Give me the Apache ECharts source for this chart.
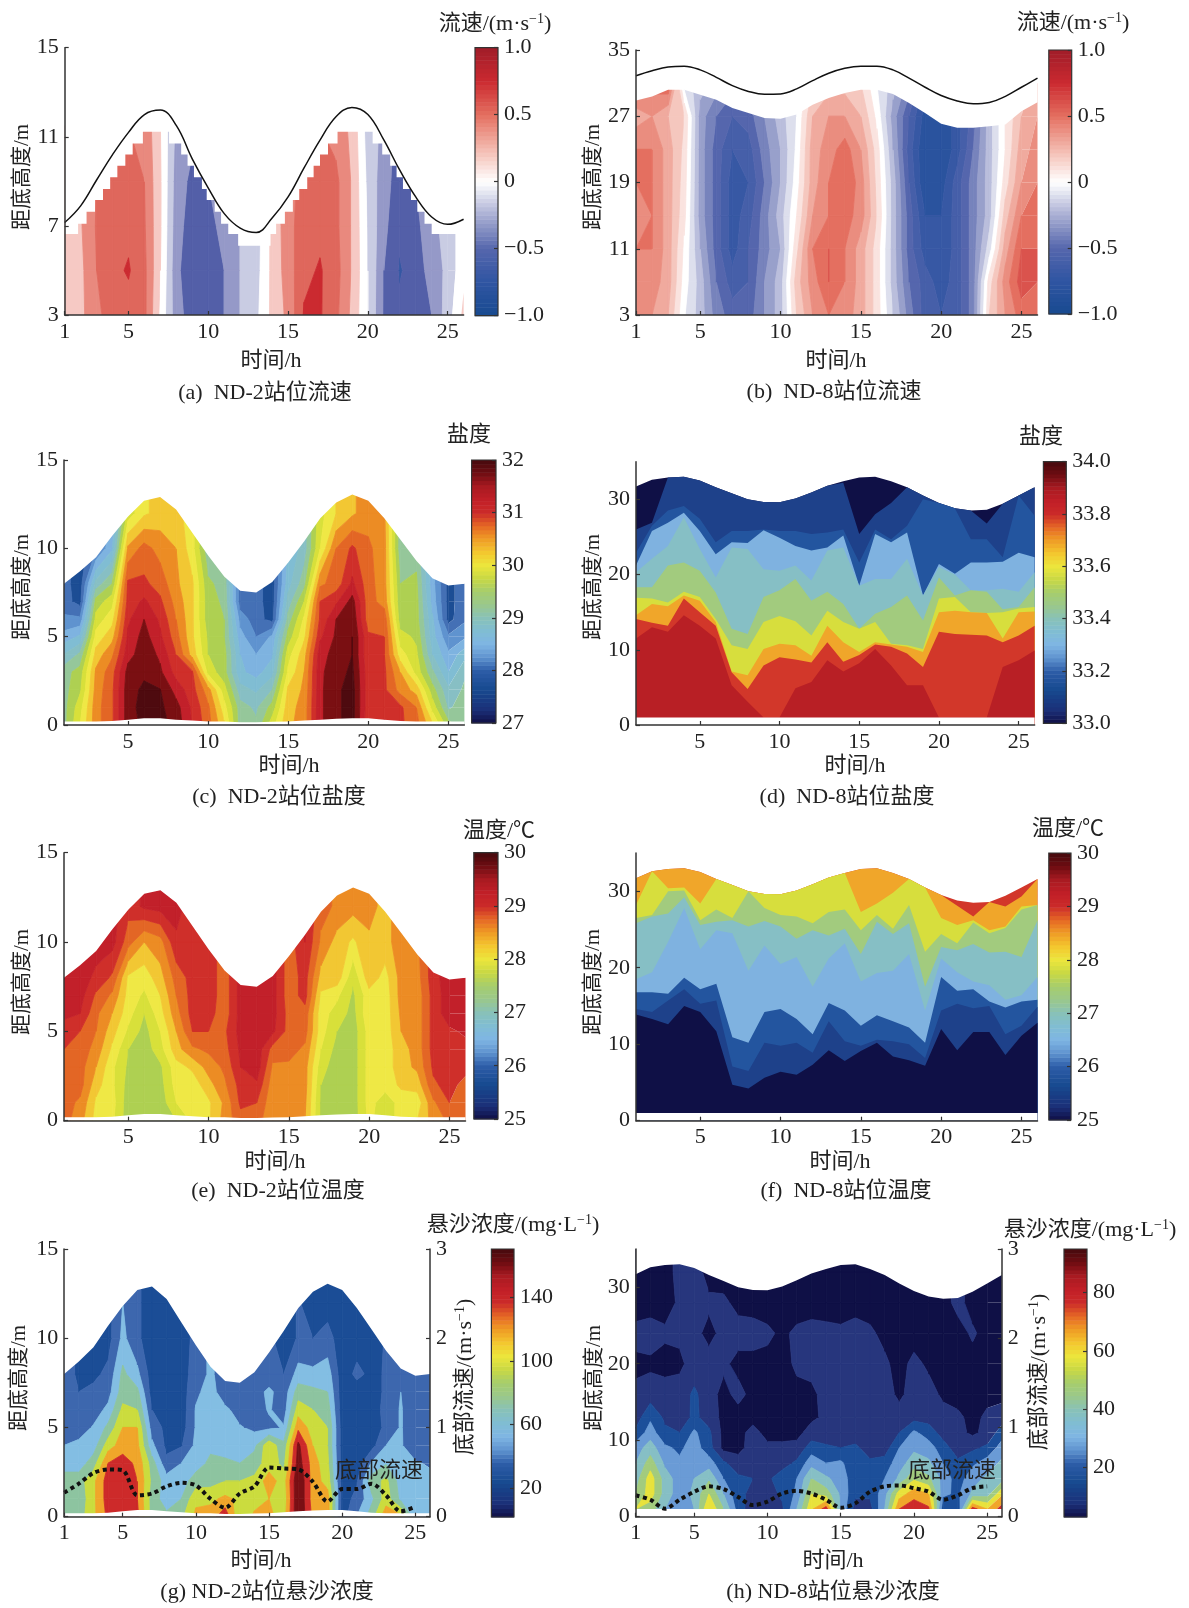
<!DOCTYPE html>
<html style="height: 100%">
<head>
    <meta charset="utf-8">
    <title>ECharts</title>
    <script src="https://cdn.jsdelivr.net/npm/echarts@6/dist/echarts.min.js"></script>
</head>
<body style="height: 100%; margin: 0; background: #fff">
<div id="main" style="width: 1189px; height: 1608px"></div>
<script type="text/javascript">

    // 时间轴
    var hours = [1,2,3,4,5,6,7,8,9,10,11,12,13,14,15,16,17,18,19,20,21,22,23,24,25,26];

    // 水面高度
    var surfND2 = [8,8.7,9.5,10.7,11.8,12.7,12.9,12.2,10.9,9.6,8.4,7.6,7.5,8.1,9.2,10.4,11.7,12.6,13.05,12.7,11.7,10.5,9.3,8.3,7.9,8];
    var bedND2 = [.2,.2,.2,.22,.3,.38,.38,.3,.25,.2,.2,.15,.15,.18,.2,.25,.3,.35,.38,.38,.3,.22,.2,.2,.2,.2];
    var surfND8 = [31.7,32.6,32.9,33,32.5,31.6,30.8,30,29.65,29.6,30.1,30.9,31.8,32.4,32.9,33,32.4,31.6,30.5,29.5,28.8,28.5,28.6,29.4,30.5,31.6];
    var bedND8 = [1,1,1,1,1,1,1,1,1,1,1,1,1,1,1,1,1,1,1,1,1,1,1,1,1,1];

    // (a)(b) 潮位曲线
    var tideA = [7.15,7.9,9.06,10.2,11.2,12,12.2,11.5,10,8.7,7.55,6.9,6.7,7.35,8.3,9.6,10.85,11.9,12.32,12,10.86,9.5,8.3,7.4,7.07,7.3];
    var tideB = [31.9,32.5,32.95,33.05,32.6,31.7,30.7,30,29.65,29.7,30.3,31.3,32.2,32.8,33.05,33.05,32.6,31.6,30.5,29.5,28.85,28.5,28.65,29.4,30.5,31.6];

    // (a) 有效数据顶边（阶梯）
    var stairT = [1,1.84,2.37,2.9,3.4,3.85,4.3,4.8,5.26,5.9,7.54,8.3,8.7,9.1,9.6,9.9,10.4,10.8,11.25,11.87,13.9,14.25,14.8,15.3,15.7,16.2,16.6,17,17.5,18.1,20.3,20.9,21.4,21.8,22.2,22.7,23.1,23.55,24,26];
    var stairH = [6.64,7.1,7.64,8.16,8.66,9.18,9.7,10.2,10.7,11.23,10.7,10.2,9.7,9.18,8.66,8.16,7.64,7.1,6.64,6.11,6.64,7.1,7.64,8.16,8.66,9.18,9.7,10.2,10.7,11.23,10.7,10.2,9.7,9.18,8.66,8.16,7.64,7.1,6.64,6.64];

    // (b) 有效数据顶边
    var topB = [28.9,29.4,30.2,30.2,29.6,29,28,27.4,26.8,26.7,27.2,28.4,29.2,29.8,30.2,30.2,29.7,28.6,27.4,26.1,25.6,25.6,25.8,26,27.6,28.7];

    // 每行一个小时，自下而上
    var rowsA = [3,5,7,9,11.5];
    var speedA = [
        [.15,.15,.15],[.25,.25,.28],[.45,.5,.52,.5],[.6,.65,.65,.62],[.62,.72,.65,.6,.5],[.55,.55,.52,.5,.45],
        [.05,.1,.12,.12,.1],[-.42,-.45,-.42,-.4,-.35],[-.6,-.65,-.6,-.55,-.45],[-.62,-.6,-.55,-.5],[-.5,-.5,-.45,-.4],[-.3,-.3,-.3],
        [-.15,-.18,-.2],[.15,.15,.15,.2],[.35,.4,.42,.45],[.72,.65,.62,.55],[.72,.72,.65,.6,.5],[.55,.58,.55,.55,.42],
        [.25,.28,.28,.28,.25],[-.1,-.1,-.12,-.15,-.2],[-.52,-.5,-.45,-.42,-.35],[-.65,-.72,-.65,-.6],[-.6,-.6,-.55,-.5],[-.5,-.42,-.38],
        [-.2,-.25,-.2],[.15,.05,0]
    ];

    var rowsB = [3,7,11,15,19,23,27,31];
    var speedB = [
        [.4,.4,.45,.4,.45,.45,.3,.5],[.35,.4,.45,.45,.45,.45,.35,.5],[.25,.3,.3,.3,.3,.3,.25,.55],[-.04,0,.03,.08,.1,.12,.15,-.1],
        [-.2,-.2,-.25,-.3,-.3,-.3,-.3,-.2],[-.4,-.45,-.5,-.5,-.5,-.5,-.45,-.3],[-.5,-.6,-.7,-.7,-.7,-.65,-.55,-.4],[-.5,-.55,-.55,-.6,-.65,-.6,-.5,-.35],
        [-.35,-.35,-.4,-.4,-.45,-.4,-.35,-.3],[-.2,-.2,-.25,-.2,-.25,-.25,-.2,-.2],[.15,.2,.12,.05,0,-.03,-.05,-.1],[.35,.4,.45,.35,.3,.3,.25,.15],
        [.45,.55,.55,.45,.45,.4,.35,.2],[.4,.45,.45,.5,.55,.5,.35,.2],[.3,.3,.3,.4,.4,.35,.25,.15],[.1,.1,.1,.15,.12,.1,.02,-.05],
        [-.15,-.2,-.2,-.2,-.2,-.25,-.3,-.2],[-.4,-.45,-.5,-.5,-.55,-.6,-.55,-.4],[-.6,-.6,-.7,-.75,-.85,-.85,-.8,-.7],[-.65,-.7,-.75,-.75,-.8,-.85,-.85,-.8],
        [-.6,-.6,-.6,-.6,-.6,-.7,-.7,-.7],[-.4,-.4,-.4,-.4,-.4,-.45,-.5,-.5],[.15,.1,-.1,-.2,-.2,-.2,-.2,-.2],[.35,.4,.3,.2,.1,.05,.05,.05],
        [.5,.6,.55,.45,.35,.3,.25,.2],[.45,.55,.55,.5,.45,.4,.35,.3]
    ];

    // (c)(e)(g) 的垂向层
    var rowsND2 = [0,1,2,3,4,5,6,7,8,10,12,14];

    var salND2 = [
        [29.4,29.4,29.4,29.4,29,28.6,28.3,28.1,28.1],[30,29.9,29.7,29.6,29.3,28.8,28.3,27.9,27.85],
        [30.65,30.65,30.6,30.55,30.35,30.1,29.85,29.6,29.1,28.2],[30.95,30.95,30.95,30.9,30.7,30.4,30.15,29.9,29.5,28.7,28.5],
        [31.65,31.65,31.65,31.6,31.4,31.3,31.2,31.1,31.05,30.55,29.85],[31.8,31.85,31.8,31.7,31.65,31.6,31.5,31.3,31.05,30.85,30.2],
        [31.85,31.8,31.76,31.55,31.45,31.3,31.2,31.05,30.9,30.65,30.35],[31.65,31.6,31.4,31.15,31,30.85,30.75,30.65,30.55,30.5,30.35],
        [31.25,31.2,31.1,31.05,30.4,30.3,30.3,30.3,30.3,30.1,30.1],[30.85,30.8,30.6,29.9,29.75,29.7,29.6,29.6,29.55,29.3],
        [30.3,30.1,29.85,29.6,29.6,29.5,29.5,29.45,29.4],[29.35,29.35,29.1,28.8,28.75,28.6,28.4,28.1,28.1],
        [29.3,29.2,28.95,28.65,28.5,28.25,28.1,28.1,28.1],[29.9,29.6,29.25,28.9,28.7,28.55,27.9,27.85,27.85],
        [30.45,30.4,30.3,30.05,29.9,29.6,29.35,29.1,28.9,28.8],[30.6,30.6,30.55,30.5,30.4,30.2,30.05,29.75,29.4,29.1,29.1],
        [31.45,31.45,31.45,31.45,31.4,31.2,31.05,31,30.7,30,29.9],[31.7,31.7,31.7,31.65,31.6,31.55,31.5,31.2,30.85,30.75,30.25],
        [31.85,31.85,31.85,31.8,31.75,31.75,31.7,31.6,31.3,31.05,30.45],[31.05,31.1,31.1,31.1,31.05,31.05,30.85,30.85,30.85,30.8,30.65],
        [31.3,31.15,31.05,31.05,31,31,30.9,30.65,30.6,30.6,30.55],[31.05,31.05,30.65,30.5,30.1,29.85,29.6,29.55,29.5,29.3],
        [30.85,30.75,30.4,29.9,29.8,29.7,29.6,29.6,29.55,29.4],[30.3,29.9,29.6,29.3,29,28.85,28.8,28.65,28.6],
        [29.6,29.2,29.05,28.75,28.55,28.3,27.9,27.9,27.9],[29.4,29.4,29.3,29.2,28.9,28.45,28.2,28.15,28.15]
    ];

    var tempND2 = [
        [28.85,28.85,28.9,28.9,29,29.15,29.3,29.35,29.35],[28.6,28.7,28.85,28.85,28.9,29,29.25,29.35,29.35],
        [28.15,28.2,28.35,28.5,28.65,28.75,28.8,28.95,29.2,29.35],[28.05,28.1,28.05,28.05,28.2,28.35,28.5,28.7,28.95,29.35],
        [27.6,27.6,27.65,27.7,27.75,27.95,28.1,28.15,28.2,28.85,29.1],[27.6,27.6,27.6,27.6,27.6,27.65,27.75,27.95,28.1,28.5,29.3],
        [27.6,27.6,27.65,27.7,27.9,28,28.15,28.25,28.4,28.65,29.35],[27.75,28,28.1,28.15,28.4,28.5,28.65,28.75,28.85,29.2,29.35],
        [28.05,28.1,28.1,28.3,28.7,29,29.1,29.1,29.1,29.1],[28.2,28.2,28.4,28.6,28.8,29,29.1,29.15,29.15],
        [28.6,28.55,28.7,28.8,28.9,28.95,28.85,28.85,28.85],[28.9,29.05,29.1,29.25,29.3,29.35,29.35,29.35,29.35],
        [28.85,29,29.2,29.4,29.4,29.4],[28.55,28.55,28.6,28.7,28.9,29.3,29.35,29.35,29.35],
        [28.6,28.6,28.6,28.7,28.85,28.9,28.9,28.85,28.85,28.85],[28.5,28.55,28.6,28.6,28.7,28.85,28.9,29.1,29.1,29.25],
        [27.7,27.7,27.75,27.85,28,28.1,28.1,28.2,28.4,28.7,28.85],[27.6,27.6,27.6,27.6,27.65,27.75,27.9,28.05,28.4,28.4,28.7],
        [27.6,27.6,27.6,27.6,27.6,27.6,27.65,27.7,27.8,28.2,28.6],[28.05,28.1,28.1,28.1,28.1,28.1,28.2,28.15,28.4,28.45,28.6],
        [27.85,27.85,28.1,28.1,28.1,28.1,28.1,28.1,28.15,28.4],[28.1,28.1,28.3,28.4,28.4,28.5,28.55,28.6,28.6,28.65],
        [28.25,28.1,28.35,28.55,28.6,28.6,28.6,28.6,28.65,28.7],[28.6,28.7,28.95,29.05,29.1,29.1,29.1,29.1,29.15],
        [28.8,29,29.1,29.15,29.2,29.2,29.4,29.4,29.4],[28.8,28.85,28.9,29.1,29.15,29.3,29.4,29.4,29.4]
    ];

    var ssc2 = [
        [90,90,85,75,60,50,50,50,45],[90,85,90,70,65,50,45,40,38],[115,115,115,90,70,62,50,45,35],[145,150,150,140,110,85,65,52,45,32],
        [160,155,155,150,130,120,105,90,85,65,60],[145,140,140,135,125,120,100,85,65,45,45],[90,90,95,90,65,50,40,30,30,25,25],[85,70,70,45,35,35,35,28,25,25,25],
        [95,80,70,60,38,30,28,30,35,32,30],[125,115,90,70,65,62,62,55,45],[130,115,92,85,75,70,70,70,65],[155,125,100,85,68,70,65,45,45],
        [100,115,100,80,70,62,50,45,40],[125,110,105,90,75,55,50,50,45],[125,120,130,110,115,55,62,65,45],[110,105,110,95,85,62,50,48,40,28],
        [180,180,180,170,165,135,110,90,68,42],[135,130,130,130,120,110,100,85,65,40,28],[130,130,112,105,100,100,90,80,70,48,30],[30,32,32,30,30,30,28,28,28,28],
        [60,45,38,28,25,28,25,30,45,30],[90,75,90,62,32,28,32,35,35,30],[135,110,105,78,60,45,45,42,42],[125,75,70,65,62,62,62,60,58],
        [65,65,65,62,48,45,45,45,45],[65,65,65,58,48,45,45,45,45]
    ];

    var rowsH = [1,3,5,7,9,11,13,16,20,24,28,32,36];
    var ssc8 = [
        [60,50,45,40,35,22,15,12,8,13,5,5],[55,65,65,55,45,35,28,15,8,15,5],[40,45,45,38,32,22,18,15,6,12,5],[30,35,35,32,28,20,15,14,8,12,12,14],
        [40,42,40,35,35,32,22,22,14,13,14,15],[70,60,48,35,24,22,16,14,14,7,12,6],[50,40,30,22,7,7,7,7,12,13,12,5],[25,22,22,14,7,7,6,13,7,14,7,5],
        [14,18,20,15,14,13,7,7,7,14,6,6],[13,15,18,15,12,7,6,7,7,12,5],[18,22,25,16,12,7,7,6,6,8,5],[40,32,30,22,13,7,7,7,12,12,5],
        [68,60,50,36,25,14,8,8,13,14,5],[85,55,42,30,22,13,12,13,14,13,5],[38,38,35,32,20,14,14,14,15,12,5],[16,22,24,22,22,14,14,14,14,14,6],
        [16,22,24,22,15,13,14,14,14,12,5],[40,36,30,24,15,13,15,14,12,7,6],[80,65,42,36,30,20,14,8,6,5],[88,75,58,45,38,32,16,14,13,5],
        [82,70,52,42,35,25,16,14,8,5],[22,32,36,30,24,16,14,8,6,5],[20,28,25,22,15,13,12,6,5,5,14],[85,42,36,28,18,8,7,6,5,12,5],
        [70,45,42,35,22,13,12,7,5],[85,68,45,42,35,25,15,7,5]
    ];

    // (d) 等值线高度，每行一个小时；99 表示到水面
    var salIso8 = [
        [11.5,14.1,14.6,16.9,18.3,20.3,21.2,22.9,26],[13,13.6,16.1,16.8,18.3,22.1,25.8,26.5,26.9],[12.4,13.2,15.8,16.3,21.2,23.8,26.9,28.5,99],
        [14.6,16.8,17.2,17.7,21.6,27.6,28.2,29.1,99],[13.2,15,16.5,17,20.5,23.4,25.8,27.4,99],[11.5,13.2,13.7,14.1,17.6,19.6,22.7,24.3,99],
        [5.3,7,7.1,10.6,12.8,23.6,24.3,25.8,99],[3.1,4.8,6.6,10.1,12.1,23.4,24.2,25.8,99],[1,7.9,10.1,13.7,17,20.7,25.9,26,99],
        [1,9,10.8,14.5,17.9,20.5,24.9,25.8,99],[4.9,8.7,10.6,13.8,19.4,21.2,23.8,25.8,99],[5.7,8.3,9.2,11.9,16.5,19.2,23.2,25.4,99],
        [8.6,11,13.2,15.2,17.7,23.2,23.6,25.6,99],[7.1,8.4,11,13.7,16.1,23.6,25.2,26,32.2],[8.2,9.3,9.7,12.8,12.8,18.5,18.5,21.6,25.4],
        [10.1,10.7,11,13.7,14.8,19.4,25.4,26,28],[7.9,10.4,10.7,10.8,15.7,19.4,24.3,24.7,29.5],[5.3,9.5,10.4,10.6,17.2,22.1,25.6,26.5,99],
        [5.3,7.7,9.7,10.1,13.9,17.2,17.2,30,99],[1,12.4,15,16.8,19.6,21,21.4,99,99],[1,12.1,15.2,17,17.2,20,20.1,99,99],
        [1,12,15,15,17.9,17.9,21.6,24.7,99],[1,11.9,14.9,14.9,17.7,17.9,21.6,24.7,26.8],[7.7,11,11.5,15,15.4,18.1,21.7,22.3,99],
        [8.6,11.9,15,15.5,15.7,17.7,22.9,99,99],[9.9,13.2,15.1,15.7,18.3,20.3,22.3,27.8,99]
    ];

    // (f) 等值线高度
    var tempIso8 = [
        [13.9,14.6,16.8,18.5,25.8,26.5,28.2,99],[13.3,14.2,16.8,19.4,26.7,26.9,99,99],[12.6,15.7,16.6,23.4,27.1,30,30.4,99],
        [15,17.2,18.7,27.8,29.2,30.1,30.5,99],[14.2,15.3,17.2,22.4,25.6,26.2,28.4,99],[11.7,15.7,17.9,24.9,26,27.6,99,99],
        [4.7,7.1,10.9,24.5,26.2,26.5,99,99],[4.2,6.5,10.2,19.6,25.4,30.4,99,99],[5.6,10.2,14.2,22.9,26.1,27.8,99,99],
        [6.4,9.8,14.6,20.5,25.4,26.9,99,99],[6,10.2,13.3,21.4,23.8,26.7,99,99],[7.3,8.9,11.3,17.5,24.9,25.8,99,99],
        [9.2,13,15.4,21.2,24.2,27.3,99,99],[7.8,10.4,14.4,23.2,25.1,27.6,32.4,99],[9.1,9.8,12.4,18.2,21.8,24.9,27.3,99],
        [10.2,10.6,13.8,19.3,26,26.9,28.4,99],[8.4,10.4,13,19.6,24.4,25.1,29.8,99],[7.9,10,12.2,21.8,25.8,28.2,99,99],
        [7.2,8.2,10.2,14.4,17.5,22.1,99,99],[12,14.4,18.8,21.2,22.7,24.4,26.5,99],[9.2,15.3,17,19.4,22.3,23.2,25.6,28.1],
        [11.6,14.7,17.2,18.2,23.1,25.9,26.2,26.7],[11.6,15,15.6,17.7,22,24.5,24.9,99],[8.6,11.3,14.8,15.8,22.1,25.2,25.4,28],
        [11.1,12.4,15.6,16.4,21.4,27.6,28,29.3],[12.8,14.9,15.8,18.8,26.2,28.2,28.2,99]
    ];

    // (g)(h) 底部流速
    var flowG = [.27,.37,.49,.53,.52,.24,.26,.34,.38,.35,.2,.1,.26,.34,.55,.54,.53,.39,.17,.31,.31,.37,.24,.06,.11];
    var flowH = [.24,.19,.09,.19,.28,.34,.31,.22,.13,.17,.26,.29,.26,.19,.1,.15,.28,.34,.35,.32,.28,.19,.24,.32,.34];

    // 色带
    var levelsA = [-1,-.9,-.7,-.5,-.3,-.1,.1,.3,.5,.7,.9,1];
    var colorsA = ['#1b4a92','#3558a3','#535fa8','#9599c8','#c9cce3','#ffffff','#f6c9c4','#e9897e','#df675c','#cb2a30','#a8202a'];
    var levelsB = [-1,-.95,-.85,-.75,-.65,-.55,-.45,-.35,-.25,-.15,-.05,.05,.15,.25,.35,.45,.55,.65,.75,.85,.95,1];
    var pal20 = ['#101048','#1b2f78','#1c4d94','#1c4d94','#4470b5','#5f93cf','#7eb3e0','#80bdd3','#87bfc4','#95c79a','#aed052','#d8e03a','#efe845','#f2c733','#ec8c24','#e36625','#cf2f2a','#c2202a','#7a0f12','#4e0a0f'];
    var levelsSal = [27,27.25,27.5,27.75,28,28.25,28.5,28.75,29,29.25,29.5,29.75,30,30.25,30.5,30.75,31,31.25,31.5,31.75,32];
    var levelsTemp = [25,25.25,25.5,25.75,26,26.25,26.5,26.75,27,27.25,27.5,27.75,28,28.25,28.5,28.75,29,29.25,29.5,29.75,30];
    var salBands8 = ['#b81f25','#d2372a','#f0a62a','#d7de3d','#a2cb7e','#86bfc5','#7fb2e0','#23559f','#1e418a','#0f1046'];
    var tempBands8 = ['#0f1046','#1e418a','#23559f','#7fb2e0','#86bfc5','#a2cb7e','#d7de3d','#f0a62a','#d2372a'];
    var levelsG = [0,20,40,60,80,100,120,140,160,200];
    var colorsG = ['#101048','#1b4d96','#3d67ae','#83bee3','#8dc4a0','#cbdc3e','#f0a62a','#cd2a2a','#7a0f14'];
    var levelsH = [0,10,20,30,40,50,60,70,80,100];
    var colorsH = ['#0f1046','#27367d','#1c4f9a','#6a9bd6','#86bfc5','#a2cb7e','#e8e23c','#f0a62a','#cd2a2a'];

    // 色标
    var jetStops = [[0,'#100f45'],[.05,'#1b2f78'],[.13,'#174a90'],[.2,'#2d5da8'],[.25,'#5f93cf'],[.3,'#7fb5e3'],[.35,'#80bdd3'],[.4,'#88c1b8'],[.45,'#9ac88c'],[.5,'#a6cd6d'],[.55,'#c8d844'],[.6,'#ece63c'],[.65,'#f3c72f'],[.7,'#ef9c25'],[.75,'#e56825'],[.8,'#cb2a29'],[.85,'#c11f27'],[.9,'#a81a21'],[.95,'#6f0d12'],[1,'#450a0d']];
    var divStops = [[0,'#174a90'],[.125,'#2f55a2'],[.25,'#5566ad'],[.375,'#a9aed3'],[.5,'#ffffff'],[.625,'#f3b9ae'],[.75,'#e46f60'],[.875,'#cb2a30'],[1,'#a01c28']];

    var FONT = '"Liberation Serif","Noto Sans CJK SC",serif';
    var INK = '#222';

    function hex(c) {
        return [parseInt(c.substr(1, 2), 16), parseInt(c.substr(3, 2), 16), parseInt(c.substr(5, 2), 16)];
    }
    function cmap(stops, t) {
        for (var i = 1; i < stops.length; i++) {
            if (t <= stops[i][0]) {
                var f = (t - stops[i - 1][0]) / (stops[i][0] - stops[i - 1][0]);
                var a = hex(stops[i - 1][1]), b = hex(stops[i][1]);
                return 'rgb(' + Math.round(a[0] + (b[0] - a[0]) * f) + ',' + Math.round(a[1] + (b[1] - a[1]) * f) + ',' + Math.round(a[2] + (b[2] - a[2]) * f) + ')';
            }
        }
        return stops[stops.length - 1][1];
    }

    var colorsB = [];
    for (var b = 0; b < levelsB.length - 1; b++) {
        var mid = (levelsB[b] + levelsB[b + 1]) / 2;
        colorsB.push(Math.abs(mid) < .03 ? '#ffffff' : cmap(divStops, (mid + 1) / 2));
    }

    // 切四边形，poly 的点为 [x, y, v]
    function clip(poly, lim, above) {
        var out = [];
        for (var i = 0; i < poly.length; i++) {
            var p = poly[i], q = poly[(i + 1) % poly.length];
            var pin = above ? p[2] >= lim : p[2] < lim;
            var qin = above ? q[2] >= lim : q[2] < lim;
            if (pin) out.push(p);
            if (pin !== qin) {
                var f = (lim - p[2]) / (q[2] - p[2]);
                out.push([p[0] + (q[0] - p[0]) * f, p[1] + (q[1] - p[1]) * f, lim]);
            }
        }
        return out;
    }

    function contourPolys(rows, matrix, levels, colors, ceil) {
        var polys = [];
        function val(i, j) {
            var col = matrix[i];
            return col[Math.min(j, col.length - 1)];
        }
        for (var i = 0; i < hours.length - 1; i++) {
            for (var j = 0; j < rows.length - 1; j++) {
                // 整格在水面以上就不画
                if (ceil && rows[j] >= Math.max(ceil[i], ceil[i + 1])) continue;
                var quad = [
                    [hours[i], rows[j], val(i, j)],
                    [hours[i + 1], rows[j], val(i + 1, j)],
                    [hours[i + 1], rows[j + 1], val(i + 1, j + 1)],
                    [hours[i], rows[j + 1], val(i, j + 1)]
                ];
                for (var k = 0; k < colors.length; k++) {
                    var pts = clip(clip(quad, levels[k], true), levels[k + 1], false);
                    // 最后一列不描边，免得漏出水面
                    if (pts.length > 2) polys.push({pts: pts, color: colors[k], edge: i === hours.length - 2});
                }
            }
        }
        return polys;
    }

    var grids = [], xAxes = [], yAxes = [], series = [], texts = [];

    function txt(str, x, y, size, rot, rich) {
        texts.push({
            type: 'text', x: x, y: y, rotation: rot || 0, z: 100, silent: true,
            style: {
                text: str, rich: rich, fill: INK, font: size + 'px ' + FONT,
                align: 'center', verticalAlign: 'middle', textAlign: 'center', textVerticalAlign: 'middle'
            }
        });
    }
    function supRich(size) {
        return {
            a: {fontSize: size, fontFamily: FONT, color: INK},
            s: {fontSize: size - 8, fontFamily: FONT, color: INK, verticalAlign: 'top', lineHeight: size + 2}
        };
    }

    function valueAxis(extra) {
        var ax = {
            type: 'value', z: 10, splitLine: {show: false},
            axisLine: {show: true, onZero: false, lineStyle: {color: '#333', width: 1.5}},
            axisTick: {show: true, inside: true, length: 4, lineStyle: {color: '#333', width: 1.2}},
            axisLabel: {fontFamily: FONT, fontSize: 22, color: INK, margin: 6}
        };
        for (var k in extra) ax[k] = extra[k];
        return ax;
    }
    function withTicks(ax, values, formatter) {
        ax.axisTick.customValues = values;
        ax.axisLabel.customValues = values;
        if (formatter) ax.axisLabel.formatter = formatter;
        return ax;
    }

    function addGrid(box) {
        grids.push({left: box[0], top: box[1], width: box[2] - box[0], height: box[3] - box[1]});
        return grids.length - 1;
    }

    function customPolys(polys, g, yIdx) {
        series.push({
            type: 'custom', xAxisIndex: g, yAxisIndex: yIdx, clip: true, silent: true, z: 2,
            animation: false, progressive: 0,
            data: polys.map(function (p, i) { return [i, 0]; }),
            renderItem: function (params, api) {
                var p = polys[params.dataIndex];
                return {
                    type: 'polygon',
                    shape: {points: p.pts.map(function (q) { return api.coord([q[0], q[1]]); })},
                    style: p.edge ? {fill: p.color} : {fill: p.color, stroke: p.color, lineWidth: .8}
                };
            }
        });
    }

    function fillLine(data, g, yIdx, color, origin, step) {
        series.push({
            type: 'line', xAxisIndex: g, yAxisIndex: yIdx, data: data, showSymbol: false, silent: true,
            step: step || false, animation: false, z: 3, clip: true,
            lineStyle: {width: 0}, areaStyle: {color: color, origin: origin, opacity: 1}
        });
    }
    function pairs(xs, ys) {
        return ys.map(function (v, i) { return [xs[i], v]; });
    }

    function addPanel(p) {
        var g = addGrid(p.box);
        var ax = valueAxis({min: 1, max: 26, gridIndex: g, position: 'bottom'});
        xAxes.push(withTicks(ax, p.xTicks));
        var yIdx = yAxes.length;
        var ay = valueAxis({min: p.yMin, max: p.yMax, gridIndex: g, position: 'left'});
        yAxes.push(withTicks(ay, p.yTicks));

        if (p.matrix) {
            customPolys(contourPolys(p.rows, p.matrix, p.levels, p.colors, p.ceil), g, yIdx);
            if (p.top) fillLine(p.top, g, yIdx, '#fff', 'end', p.step);
            if (p.bed) fillLine(pairs(hours, p.bed), g, yIdx, '#fff', 'start');
        } else {
            // 从上往下盖
            fillLine(pairs(hours, p.surf), g, yIdx, p.bands[p.bands.length - 1], 'start');
            for (var k = p.iso[0].length - 1; k >= 0; k--) {
                var line = p.iso.map(function (r, i) { return Math.min(r[k], p.surf[i]); });
                fillLine(pairs(hours, line), g, yIdx, p.bands[k], 'start');
            }
            fillLine(pairs(hours, p.bed), g, yIdx, '#fff', 'start');
        }

        if (p.tide) {
            series.push({
                type: 'line', xAxisIndex: g, yAxisIndex: yIdx, data: pairs(hours, p.tide), smooth: .4,
                showSymbol: false, silent: true, animation: false, z: 4,
                lineStyle: {color: '#111', width: 1.5}
            });
        }
        if (p.flow) {
            var rIdx = yAxes.length;
            yAxes.push(withTicks(valueAxis({min: 0, max: 3, gridIndex: g, position: 'right'}), [0, 1, 2, 3]));
            series.push({
                type: 'line', xAxisIndex: g, yAxisIndex: rIdx, data: pairs(hours, p.flow), smooth: .3,
                showSymbol: false, silent: true, animation: false, z: 5,
                lineStyle: {color: '#111', width: 4, type: [4, 3.5], cap: 'butt'}
            });
        }

        // 色标
        var c = p.cbar;
        var cg = addGrid(c.box);
        xAxes.push({type: 'value', min: 0, max: 1, gridIndex: cg, show: false});
        var cy = yAxes.length;
        var acb = valueAxis({min: c.min, max: c.max, gridIndex: cg, position: 'right'});
        acb.axisLine.show = false;
        yAxes.push(withTicks(acb, c.ticks, c.fmt));
        var steps = [], n = 64;
        for (var s = 0; s < n; s++) steps.push([s / n, (s + 1) / n]);
        steps.push([-1, -1]);
        series.push({
            type: 'custom', xAxisIndex: cg, yAxisIndex: cy, silent: true, animation: false, z: 2, clip: false,
            data: steps,
            renderItem: function (params, api) {
                var lo = api.value(0), hi = api.value(1), span = c.max - c.min;
                if (lo < 0) {
                    var a = api.coord([0, c.max]), d = api.coord([1, c.min]);
                    return {type: 'rect', z2: 5, shape: {x: a[0], y: a[1], width: d[0] - a[0], height: d[1] - a[1]},
                        style: {fill: 'none', stroke: '#333', lineWidth: 1.2}};
                }
                var tl = api.coord([0, c.min + hi * span]), br = api.coord([1, c.min + lo * span]);
                return {type: 'rect', shape: {x: tl[0], y: tl[1], width: br[0] - tl[0], height: br[1] - tl[1] + .5},
                    style: {fill: cmap(c.stops, (lo + hi) / 2)}};
            }
        });

        // 文字
        txt(p.yName[0], p.yName[1], p.yName[2], 21, Math.PI / 2);
        txt('时间/h', p.xName[0], p.xName[1], 22);
        txt(p.caption[0], p.caption[1], p.caption[2], 22);
        txt(p.cbTitle[0], p.cbTitle[1], p.cbTitle[2], 22, 0, p.cbTitle[3] ? supRich(22) : undefined);
        if (p.rName) {
            txt('{a|底部流速/(m·s}{s|−1}{a|)}', p.rName[0], p.rName[1], 22, Math.PI / 2, supRich(22));
            txt('底部流速', p.rLabel[0], p.rLabel[1], 22);
        }
    }

    var T1 = [1, 5, 10, 15, 20, 25], T5 = [5, 10, 15, 20, 25];
    function fixed1(v) { return v.toFixed(1); }
    function speedFmt(v) { return v === 0 ? '0' : (v < 0 ? '−' : '') + Math.abs(v).toFixed(1); }
    var SPEED_TITLE = '{a|流速/(m·s}{s|−1}{a|)}';
    var SSC_TITLE = '{a|悬沙浓度/(mg·L}{s|−1}{a|)}';

    addPanel({
        box: [64.7, 47.7, 463.6, 315], xTicks: T1, yMin: 3, yMax: 15, yTicks: [3, 7, 11, 15],
        rows: rowsA, matrix: speedA, levels: levelsA, colors: colorsA, top: pairs(stairT, stairH), step: 'end', tide: tideA,
        cbar: {box: [475, 47.7, 498, 315.7], min: -1, max: 1, ticks: [-1, -.5, 0, .5, 1], fmt: speedFmt, stops: divStops},
        yName: ['距底高度/m', 22, 177], xName: [271, 361], caption: ['(a)  ND-2站位流速', 265, 393], cbTitle: [SPEED_TITLE, 495, 24, true]
    });
    addPanel({
        box: [636, 50, 1037.5, 315], xTicks: T1, yMin: 3, yMax: 35, yTicks: [3, 11, 19, 27, 35],
        rows: rowsB, matrix: speedB, levels: levelsB, colors: colorsB, top: pairs(hours, topB), ceil: topB, tide: tideB,
        cbar: {box: [1048.8, 50, 1071.7, 314], min: -1, max: 1, ticks: [-1, -.5, 0, .5, 1], fmt: speedFmt, stops: divStops},
        yName: ['距底高度/m', 593, 177], xName: [836, 361], caption: ['(b)  ND-8站位流速', 834, 392], cbTitle: [SPEED_TITLE, 1073, 23, true]
    });
    addPanel({
        box: [64, 460, 464.4, 725], xTicks: T5, yMin: 0, yMax: 15, yTicks: [0, 5, 10, 15],
        rows: rowsND2, matrix: salND2, levels: levelsSal, colors: pal20, top: pairs(hours, surfND2), ceil: surfND2, bed: bedND2,
        cbar: {box: [471.6, 460, 496, 723], min: 27, max: 32, ticks: [27, 28, 29, 30, 31, 32], stops: jetStops},
        yName: ['距底高度/m', 22, 587], xName: [289, 766], caption: ['(c)  ND-2站位盐度', 279, 797], cbTitle: ['盐度', 469, 435]
    });
    addPanel({
        box: [636, 461.7, 1034.6, 725], xTicks: T5, yMin: 0, yMax: 35, yTicks: [0, 10, 20, 30],
        surf: surfND8, bed: bedND8, iso: salIso8, bands: salBands8,
        cbar: {box: [1043.4, 461.7, 1066.3, 723.3], min: 33, max: 34, ticks: [33, 33.2, 33.4, 33.6, 33.8, 34], fmt: fixed1, stops: jetStops},
        yName: ['距底高度/m', 593, 587], xName: [855, 766], caption: ['(d)  ND-8站位盐度', 847, 797], cbTitle: ['盐度', 1041, 437]
    });
    addPanel({
        box: [64, 852.7, 465.5, 1120.7], xTicks: T5, yMin: 0, yMax: 15, yTicks: [0, 5, 10, 15],
        rows: rowsND2, matrix: tempND2, levels: levelsTemp, colors: pal20, top: pairs(hours, surfND2), ceil: surfND2, bed: bedND2,
        cbar: {box: [473.8, 852.7, 498, 1119], min: 25, max: 30, ticks: [25, 26, 27, 28, 29, 30], stops: jetStops},
        yName: ['距底高度/m', 22, 982], xName: [275, 1162], caption: ['(e)  ND-2站位温度', 278, 1191], cbTitle: ['温度/℃', 499, 831]
    });
    addPanel({
        box: [636, 853, 1037.5, 1120.7], xTicks: T5, yMin: 0, yMax: 35, yTicks: [0, 10, 20, 30],
        surf: surfND8, bed: bedND8, iso: tempIso8, bands: tempBands8,
        cbar: {box: [1048.8, 853, 1071, 1120], min: 25, max: 30, ticks: [25, 26, 27, 28, 29, 30], stops: jetStops},
        yName: ['距底高度/m', 593, 982], xName: [840, 1162], caption: ['(f)  ND-8站位温度', 846, 1191], cbTitle: ['温度/℃', 1068, 829]
    });
    addPanel({
        box: [64.2, 1249, 430, 1516.7], xTicks: T1, yMin: 0, yMax: 15, yTicks: [0, 5, 10, 15],
        rows: rowsND2, matrix: ssc2, levels: levelsG, colors: colorsG, top: pairs(hours, surfND2), ceil: surfND2, bed: bedND2, flow: flowG,
        cbar: {box: [491.4, 1249, 514, 1517], min: 1.7, max: 170.5, ticks: [20, 60, 100, 140], stops: jetStops},
        yName: ['距底高度/m', 19.5, 1378], xName: [261, 1561], caption: ['(g) ND-2站位悬沙浓度', 267, 1592], cbTitle: [SSC_TITLE, 513, 1225, true],
        rName: [465, 1377], rLabel: [379, 1471]
    });
    addPanel({
        box: [635.7, 1249, 1001.8, 1516.7], xTicks: T1, yMin: 0, yMax: 35, yTicks: [0, 10, 20, 30],
        rows: rowsH, matrix: ssc8, levels: levelsH, colors: colorsH, top: pairs(hours, surfND8), ceil: surfND8, bed: bedND8, flow: flowH,
        cbar: {box: [1064, 1249, 1087, 1517], min: 3, max: 95, ticks: [20, 40, 60, 80], stops: jetStops},
        yName: ['距底高度/m', 594, 1378], xName: [833, 1561], caption: ['(h) ND-8站位悬沙浓度', 833, 1592], cbTitle: [SSC_TITLE, 1090, 1230, true],
        rName: [1039, 1372], rLabel: [952, 1471]
    });

    var myChart = echarts.init(document.getElementById('main'), null, {renderer: 'canvas'});
    myChart.setOption({
        animation: false,
        backgroundColor: '#fff',
        grid: grids,
        xAxis: xAxes,
        yAxis: yAxes,
        series: series,
        graphic: {elements: texts}
    });
</script>
</body>
</html>
